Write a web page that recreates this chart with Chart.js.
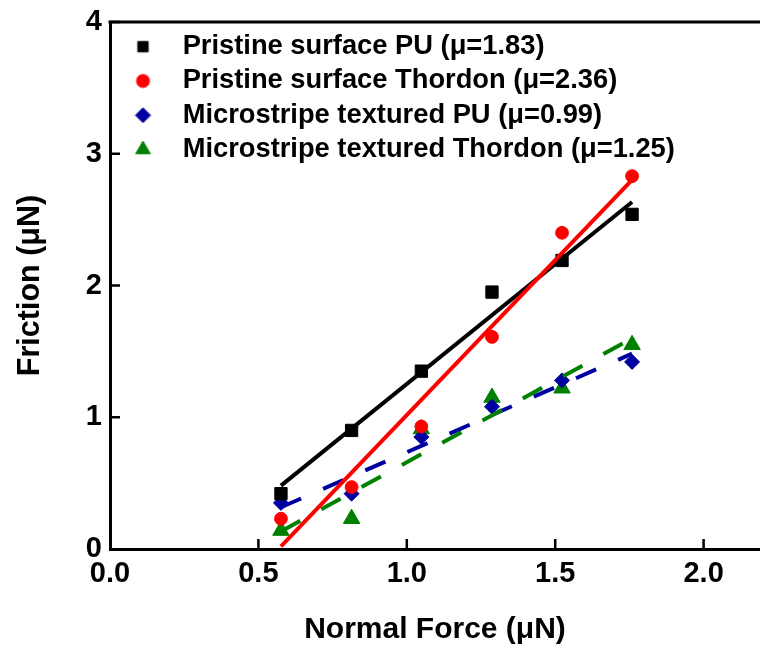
<!DOCTYPE html>
<html lang="en">
<head>
  <meta charset="UTF-8">
  <title>Friction vs Normal Force</title>
  <style>
    html, body {
      margin: 0;
      padding: 0;
      background: #fff;
    }

    #wrap {
      position: relative;
      width: 760px;
      height: 648px;
    }
  </style>
  <script src="https://cdn.jsdelivr.net/npm/chart.js"></script>
</head>
<body>
  <div id="wrap"><canvas id="frictionChart"></canvas></div>

  <script>
    // normal force (μN) of each measurement
    const normalForce = [0.576, 0.814, 1.049, 1.287, 1.523, 1.759];

    // friction (μN) read for each sample
    const pristinePU = [0.42, 0.90, 1.35, 1.95, 2.19, 2.54];
    const pristineThordon = [0.23, 0.47, 0.93, 1.61, 2.40, 2.83];
    const stripePU = [0.35, 0.42, 0.85, 1.08, 1.28, 1.42];
    const stripeThordon = [0.14, 0.23, 0.91, 1.15, 1.22, 1.55];

    const seriesNames = [
      "Pristine surface PU (μ=1.83)",
      "Pristine surface Thordon (μ=2.36)",
      "Microstripe textured PU (μ=0.99)",
      "Microstripe textured Thordon (μ=1.25)"
    ];

    const xTicks = [0.0, 0.5, 1.0, 1.5, 2.0];
    const yTicks = [0, 1, 2, 3, 4];

    const FONT = "'Liberation Sans', Arial, sans-serif";

    // look of each series (marker, colour, fit line)
    const looks = [
      { color: "#000000", marker: "rect", radius: 8.7, legendR: 7.4, dash: [] },
      { color: "#ff0000", marker: "circle", radius: 6.4, legendR: 6.5, dash: [] },
      { color: "#0000a0", marker: "rectRot", radius: 7.5, legendR: 7.5, dash: [22, 24] },
      { color: "#008000", marker: "triangle", radius: 9.5, legendR: 8.5, dash: [22, 24] }
    ];

    const allSeries = [pristinePU, pristineThordon, stripePU, stripeThordon];

    // least squares line over the measured range
    function fitLine(xs, ys) {
      const n = xs.length;
      const mx = xs.reduce((a, b) => a + b, 0) / n;
      const my = ys.reduce((a, b) => a + b, 0) / n;
      let sxy = 0, sxx = 0;
      for (let i = 0; i < n; i++) {
        sxy += (xs[i] - mx) * (ys[i] - my);
        sxx += (xs[i] - mx) * (xs[i] - mx);
      }
      const k = sxy / sxx;
      const b = my - k * mx;
      return [xs[0], xs[n - 1]].map(x => ({ x: x, y: b + k * x }));
    }

    function legendIcon(look) {
      const size = Math.ceil(look.legendR * 2 + 4);
      const c = document.createElement("canvas");
      c.width = size;
      c.height = size;
      const g = c.getContext("2d");
      g.fillStyle = look.color;
      g.strokeStyle = look.color;
      g.lineWidth = 1;
      Chart.helpers.drawPoint(g, { pointStyle: look.marker, radius: look.legendR, rotation: 0, borderWidth: 1 }, size / 2, size / 2);
      return c;
    }

    const icons = looks.map(legendIcon);

    const pointSets = allSeries.map((ys, i) => ({
      label: seriesNames[i],
      data: normalForce.map((x, j) => ({ x: x, y: ys[j] })),
      showLine: false,
      pointStyle: looks[i].marker,
      pointRadius: looks[i].radius,
      pointBackgroundColor: looks[i].color,
      pointBorderColor: looks[i].color,
      pointBorderWidth: 1,
      backgroundColor: looks[i].color,
      borderColor: looks[i].color,
      order: 10 + i
    }));

    const fitOrder = [1, 0, 3, 2];
    const fitSets = allSeries.map((ys, i) => ({
      label: "fit " + i,
      data: fitLine(normalForce, ys),
      showLine: true,
      pointRadius: 0,
      borderColor: looks[i].color,
      borderWidth: 4,
      borderDash: looks[i].dash,
      fill: false,
      order: fitOrder[i]
    }));

    // put the legend in the upper left of the plot
    const legendSpot = {
      id: "legendSpot",
      afterLayout(chart) {
        const lg = chart.legend, a = chart.chartArea;
        if (!lg) return;
        lg.left = a.left;
        lg.top = a.top + 4;
        lg.right = a.right;
        lg.bottom = a.bottom;
        lg.width = a.right - a.left;
        lg.height = a.bottom - lg.top;
      }
    };

    // tick marks pointing into the plot, plus the top frame line
    const innerTicks = {
      id: "innerTicks",
      afterDraw(chart) {
        const { ctx, chartArea: a, scales } = chart;
        ctx.save();
        ctx.strokeStyle = "#000";
        ctx.lineWidth = 2.5;
        ctx.beginPath();
        scales.x.ticks.forEach(t => {
          const px = scales.x.getPixelForValue(t.value);
          if (px <= a.left + 2) return;
          ctx.moveTo(px, a.bottom);
          ctx.lineTo(px, a.bottom - 10);
        });
        scales.y.ticks.forEach(t => {
          const py = scales.y.getPixelForValue(t.value);
          if (py >= a.bottom - 2) return;
          ctx.moveTo(a.left, py);
          ctx.lineTo(a.left + 10, py);
        });
        ctx.stroke();
        ctx.lineWidth = 3;
        ctx.beginPath();
        ctx.moveTo(a.left - 1.5, a.top);
        ctx.lineTo(a.right, a.top);
        ctx.stroke();
        ctx.restore();
      }
    };

    new Chart(document.getElementById("frictionChart"), {
      type: "scatter",
      data: { datasets: pointSets.concat(fitSets) },
      options: {
        responsive: true,
        maintainAspectRatio: false,
        animation: false,
        layout: {
          autoPadding: false,
          padding: { top: 22, right: 0, bottom: 0, left: 0 }
        },
        plugins: {
          tooltip: { enabled: false },
          legend: {
            position: "chartArea",
            align: "start",
            labels: {
              usePointStyle: true,
              pointStyleWidth: 52,
              padding: 7,
              color: "#000",
              font: { family: FONT, size: 27.3, weight: "bold" },
              filter: item => item.datasetIndex < 4,
              generateLabels(chart) {
                const items = Chart.defaults.plugins.legend.labels.generateLabels(chart);
                items.forEach(it => {
                  if (it.datasetIndex < 4) it.pointStyle = icons[it.datasetIndex];
                });
                return items;
              }
            }
          }
        },
        scales: {
          x: {
            type: "linear",
            min: 0,
            max: 2.19,
            afterBuildTicks: s => { s.ticks = xTicks.map(v => ({ value: v })); },
            afterFit: s => {
              s.height = 99;
              s.paddingLeft = 0;
              s.paddingRight = 0;
            },
            grid: { display: false, drawTicks: false },
            border: { display: true, color: "#000", width: 3 },
            ticks: {
              color: "#000",
              padding: 8,
              maxRotation: 0,
              font: { family: FONT, size: 29, weight: "bold" },
              callback: v => v.toFixed(1)
            },
            title: {
              display: true,
              text: "Normal Force (μN)",
              color: "#000",
              padding: { top: 0, bottom: 0 },
              font: { family: FONT, size: 30, weight: "bold" }
            }
          },
          y: {
            type: "linear",
            min: 0,
            max: 4,
            afterBuildTicks: s => { s.ticks = yTicks.map(v => ({ value: v })); },
            afterFit: s => {
              s.width = 110;
              s.paddingTop = 0;
              s.paddingBottom = 0;
            },
            grid: { display: false, drawTicks: false },
            border: { display: true, color: "#000", width: 3 },
            ticks: {
              color: "#000",
              padding: 8,
              font: { family: FONT, size: 29, weight: "bold" },
              callback: v => String(v)
            },
            title: {
              display: true,
              text: "Friction (μN)",
              color: "#000",
              padding: { top: 12, bottom: 0 },
              font: { family: FONT, size: 30.5, weight: "bold" }
            }
          }
        }
      },
      plugins: [legendSpot, innerTicks]
    });
  </script>
</body>
</html>
